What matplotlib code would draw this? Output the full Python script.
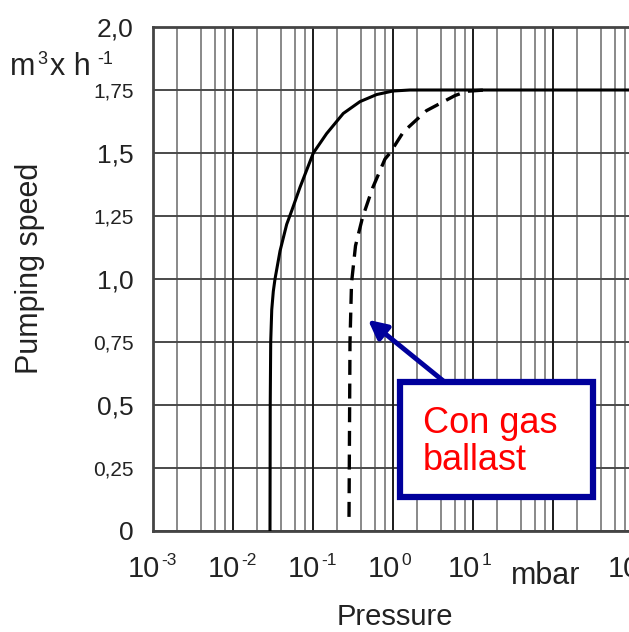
import matplotlib
matplotlib.use("Agg")
import matplotlib.pyplot as plt
from matplotlib.ticker import LogLocator, NullFormatter
from matplotlib.patches import Rectangle

plt.rcParams['font.family'] = ['Liberation Sans', 'DejaVu Sans']

# ---- data ----
p_solid = [0.0290, 0.0292, 0.0296, 0.0305, 0.0319, 0.0335, 0.0387, 0.0469, 0.0542,
           0.0688, 0.1009, 0.148, 0.239, 0.387, 0.625, 1.0, 1.63, 1000]
s_solid = [0.0, 0.50, 0.75, 0.878, 0.951, 1.00, 1.111, 1.217, 1.271,
           1.364, 1.50, 1.577, 1.657, 1.704, 1.732, 1.746, 1.75, 1.75]

p_gas = [0.282, 0.290, 0.303, 0.340, 0.416, 0.554, 0.794, 0.917, 1.35,
         2.62, 5.96, 8.4, 14.1]
s_gas = [0.056, 0.75, 0.984, 1.132, 1.244, 1.36, 1.476, 1.50, 1.584,
         1.668, 1.728, 1.745, 1.75]

x_ticks = [1e-3, 1e-2, 1e-1, 1e0, 1e1]
x_tick_exps = ['-3', '-2', '-1', '0', '1']
y_ticks = [0, 0.25, 0.5, 0.75, 1.0, 1.25, 1.5, 1.75, 2.0]
y_tick_labels = ['0', '0,25', '0,5', '0,75', '1,0', '1,25', '1,5', '1,75', '2,0']

fig = plt.figure(figsize=(6.29, 6.32), dpi=100)
ax = fig.add_axes([153/629, 101/632, 480/629, 504/632])
ax.set_xscale('log')
ax.set_xlim(1e-3, 1e3)
ax.set_ylim(0, 2.0)

# grid
ax.xaxis.set_minor_locator(LogLocator(base=10, subs=[2, 4, 6, 8], numticks=50))
ax.xaxis.set_minor_formatter(NullFormatter())
ax.set_xticks(x_ticks, [''] * len(x_ticks))
ax.set_yticks(y_ticks, y_tick_labels)
for d in [1e-3, 1e-2, 1e-1, 1e0, 1e1, 1e2]:
    ax.axvline(d, color='#1a1a1a', lw=1.4, zorder=1)
ax.grid(which='minor', axis='x', color='#6a6a6a', lw=1.1, zorder=1)
ax.grid(which='major', axis='y', color='#4a4a4a', lw=1.4, zorder=1)
ax.set_axisbelow(True)

ax.tick_params(axis='both', which='both', length=0)
ax.tick_params(axis='y', pad=14)
for lab, txt in zip(ax.get_yticklabels(), y_tick_labels):
    lab.set_fontsize(15 if len(txt) == 4 else 19)
    lab.set_color('#222222')

# x tick labels: "10" plus a small raised exponent
for xt, ex in zip(x_ticks, x_tick_exps):
    ax.annotate('10', xy=(xt, 0), xycoords=('data', 'axes fraction'),
                xytext=(5.0, -33.0), textcoords='offset points',
                ha='right', va='baseline', fontsize=21, color='#222222',
                annotation_clip=False)
    ax.annotate(ex, xy=(xt, 0), xycoords=('data', 'axes fraction'),
                xytext=(6.2, -24.5), textcoords='offset points',
                ha='left', va='baseline', fontsize=12.5, color='#222222',
                annotation_clip=False)

for s in ['left', 'bottom', 'top']:
    ax.spines[s].set_color('#444444')
    ax.spines[s].set_linewidth(2)
ax.spines['right'].set_visible(False)

# curves
ax.plot(p_solid, s_solid, color='black', lw=2.2, zorder=3)
ax.plot(p_gas, s_gas, color='black', lw=2.4, ls=(0, (4.5, 2.6)), zorder=3)

# labels
fig.text(546/629, 1 - 584/632, 'mbar', fontsize=22, ha='center',
         va='baseline', color='#222222')
fig.text(608/629, 1 - 577/632, '10', fontsize=21, ha='left',
         va='baseline', color='#222222')
fig.text(395/629, 1 - 625/632, 'Pressure', fontsize=21, ha='center',
         va='baseline', color='#222222')
fig.text(30/629, 1 - 268/632, 'Pumping speed', fontsize=22, ha='center',
         va='center', rotation=90, color='#222222')
fig.text(10/629, 1 - 75/632, 'm', fontsize=22, ha='left', va='baseline',
         color='#222222')
fig.text(37/629, 1 - 64/632, '3', fontsize=13, ha='left', va='baseline',
         color='#222222')
fig.text(50/629, 1 - 75/632, 'x h', fontsize=22, ha='left', va='baseline',
         color='#222222')
fig.text(97/629, 1 - 64/632, '-1', fontsize=13, ha='left', va='baseline',
         color='#222222')

# annotation box
box_col = '#00009C'
ax.add_patch(Rectangle((0.5146, 0.0675), 0.9167 - 0.5146, 0.2956 - 0.0675,
                       transform=ax.transAxes, facecolor='white',
                       edgecolor=box_col, lw=4.5, zorder=5))
ax.text(0.5625, 0.1766, 'Con gas\nballast', color='red', fontsize=26,
        ha='left', va='center', linespacing=1.1, transform=ax.transAxes,
        zorder=6)
ax.annotate('', xy=(0.487, 0.838), xytext=(4.47, 0.59),
            arrowprops=dict(arrowstyle='-|>', color=box_col, lw=3.5,
                            mutation_scale=28, shrinkA=0, shrinkB=0),
            zorder=6)

fig.savefig('out.png', dpi=100)
